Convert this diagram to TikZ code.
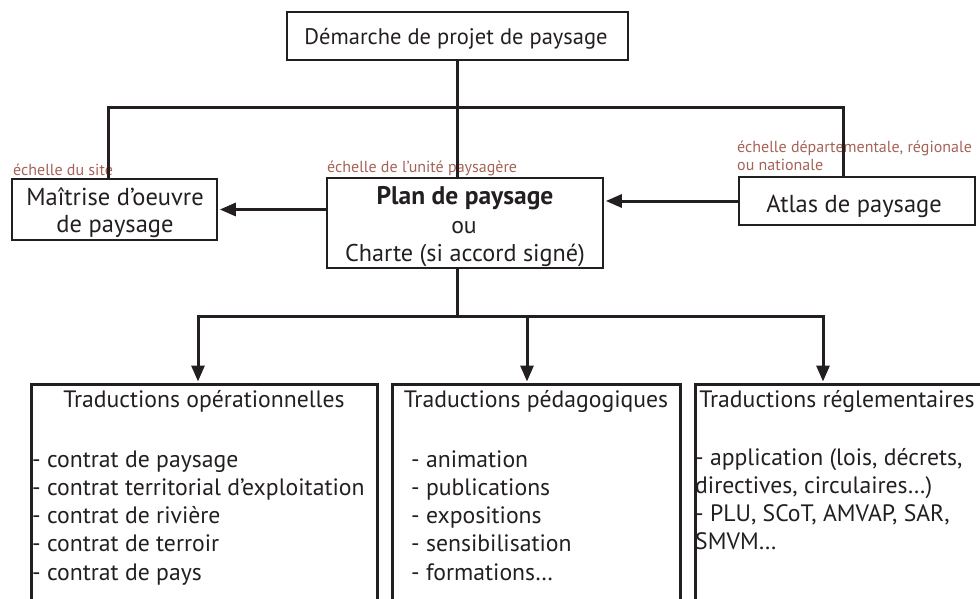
\documentclass[tikz,border=0pt]{standalone}
\usepackage{fontspec}
\setmainfont{PT Sans}
\usetikzlibrary{arrows.meta}
\definecolor{ink}{RGB}{35,31,32}
\definecolor{echred}{RGB}{166,98,88}
\newcommand\mainfs{\fontsize{23.7}{28.4}\selectfont}
\newcommand\lblfs{\fontsize{16}{17.5}\selectfont}
\begin{document}
\begin{tikzpicture}[x=1pt,y=-1pt,
  box/.style={draw=ink, line width=2.6pt, rectangle, inner sep=0pt},
  conn/.style={draw=ink, line width=3pt},
  arr/.style={conn, -{Triangle[length=16pt,width=13pt]}, shorten >=1.5pt},
  txt/.style={text=ink, font=\mainfs, inner sep=0pt, anchor=base},
  ltxt/.style={txt, anchor=base west},
  lbl/.style={text=echred, font=\lblfs, inner sep=0pt, anchor=base west}]
\useasboundingbox (0,0) rectangle (980,598);
\clip (0,0) rectangle (980,598);
% boxes
\node[box, minimum width=341pt, minimum height=48pt] (top) at (457.5,36) {};
\node[box, minimum width=205pt, minimum height=61pt] (mai) at (114.5,209.5) {};
\node[box, minimum width=276pt, minimum height=90pt] (plan) at (465,223) {};
\node[box, minimum width=236pt, minimum height=48pt] (atl) at (857,201) {};
\node[box, anchor=north west, minimum width=346pt, minimum height=300pt] (b1) at (30,383) {};
\node[box, anchor=north west, minimum width=288pt, minimum height=300pt] (b2) at (391,383) {};
\node[box, anchor=north west, minimum width=320pt, minimum height=300pt] (b3) at (694,383) {};
% texts
\node[txt, font=\fontsize{22.5}{27}\selectfont] (top-t) at (456,44.5) {Démarche de projet de paysage};
\node[txt, font=\fontsize{24.5}{28}\selectfont] (mai-t1) at (115,205) {Maîtrise d’oeuvre};
\node[txt, font=\fontsize{24.5}{28}\selectfont] (mai-t2) at (115,232) {de paysage};
\node[txt, font=\fontsize{25.5}{28}\selectfont\bfseries] (plan-t1) at (465,204) {Plan de paysage};
\node[txt] (plan-t2) at (464,233) {ou};
\node[txt, font=\fontsize{24.2}{28}\selectfont] (plan-t3) at (465,261) {Charte (si accord signé)};
\node[txt, font=\fontsize{24.5}{28}\selectfont] (atl-t) at (854,212) {Atlas de paysage};
\node[txt] (b1-t) at (204,407) {Traductions opérationnelles};
\node[txt] (b2-t) at (536,407) {Traductions pédagogiques};
\node[txt] (b3-t) at (837,407) {Traductions réglementaires};
\foreach \s [count=\i from 0] in {- contrat de paysage, - contrat territorial d’exploitation, - contrat de rivière, - contrat de terroir, - contrat de pays}
  \node[ltxt] (b1-l\i) at (32,467+28.3*\i) {\s};
\foreach \s [count=\i from 0] in {- animation, - publications, - expositions, - sensibilisation, - formations…}
  \node[ltxt] (b2-l\i) at (411,467+28.3*\i) {\s};
\node[ltxt] (b3-l0) at (695,465) {- application (lois, décrets,};
\node[ltxt] (b3-l1) at (695,493.3) {directives, circulaires…)};
\node[ltxt] (b3-l2) at (695,521.6) {- PLU, SCoT, AMVAP, SAR,};
\node[ltxt] (b3-l3) at (695,549.9) {SMVM…};
% scale labels
\node[lbl] (e1) at (13,175) {échelle du site};
\node[lbl] (e2) at (327,172.5) {échelle de l’unité paysagère};
\node[lbl] (e3a) at (737,152.5) {échelle départementale, régionale};
\node[lbl] (e3b) at (737,170) {ou nationale};
% connectors
\coordinate (hl) at (108,107);
\coordinate (hr) at (843,107);
\coordinate (bl) at (198,316);
\coordinate (bm) at (527,316);
\coordinate (br) at (823,316);
\draw[conn] (top.south) -- (top.south |- plan.north);
\draw[conn] (hl |- mai.north) -- (hl) -- (hr) -- (hr |- atl.north);
\draw[arr] (atl.west) -- (atl.west -| plan.east);
\draw[arr] (plan.west |- mai.east) -- (mai.east);
\draw[conn] (top.south |- plan.south) -- (top.south |- bm);
\draw[arr] (bm) -- (bl) -- (bl |- b1.north);
\draw[arr] (bm) -- (bm |- b2.north);
\draw[arr] (bm) -- (br) -- (br |- b3.north);
\end{tikzpicture}
\end{document}
